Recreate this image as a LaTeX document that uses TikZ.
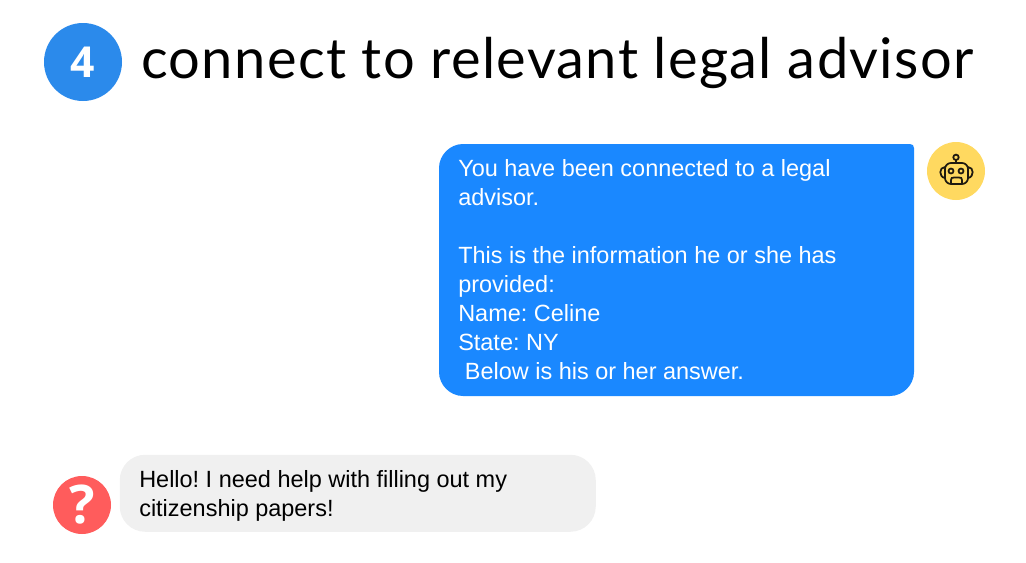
\documentclass[tikz,border=0pt]{standalone}
\usepackage{fontspec}
\setmainfont{Liberation Sans}
\newfontfamily\titlefont[LetterSpace=2.4]{Lato}
\newfontfamily\numfont{Open Sans}
\definecolor{stepblue}{HTML}{2B8AEB}
\definecolor{botblue}{HTML}{1A88FF}
\definecolor{botyellow}{HTML}{FFD960}
\definecolor{userred}{HTML}{FF5C5C}
\definecolor{usergray}{HTML}{F0F0F0}
\definecolor{iconink}{HTML}{1F1A10}
\tikzset{
	bubbletext/.style={anchor=north west,inner sep=0pt,align=left,font=\fontsize{17.6}{21.75}\selectfont},
	iconline/.style={draw=iconink,line width=1.3pt}
}
\frenchspacing
\begin{document}
\begin{tikzpicture}[x=0.75pt,y=0.75pt,yscale=-1,xscale=1]
	\useasboundingbox (0,0) rectangle (1026,562);

	%Shape: Circle [step badge]
	\node (stepbadge) [circle,fill=stepblue,minimum size=58.5pt,inner sep=0pt] at (83,62) {};
	% Text Node
	\node [text=white,font=\numfont\bfseries\fontsize{32}{32}\selectfont] at (stepbadge) {4};
	% Text Node
	\node (title) [anchor=base west,inner sep=0pt,font=\titlefont\fontsize{42}{48}\selectfont] at (141,78) {connect to relevant legal advisor};

	%Shape: Bot bubble
	\fill [botblue] (463,144) -- (910,144) .. controls (912.5,144) and (914,145.5) .. (914,148) -- (914,372) .. controls (914,385) and (903,396) .. (890,396) -- (463,396) .. controls (450,396) and (439,385) .. (439,372) -- (439,168) .. controls (439,155) and (450,144) .. (463,144) -- cycle ;
	% Text Node
	\node (bottext) [bubbletext,text=white] at (458,159) {You have been connected to a legal\\advisor.\\[21.75pt]This is the information he or she has\\provided:\\Name: Celine\\State: NY\\\hspace*{5pt}Below is his or her answer.};

	%Shape: Circle [bot avatar]
	\node (botavatar) [circle,fill=botyellow,minimum size=43.5pt,inner sep=0pt] at (956,171) {};
	%Robot icon
	\draw [iconline] (956,163) -- (956,160) ;
	\draw [iconline] (956,157.3) circle [radius=2.7] ;
	\draw [iconline,rounded corners=4.5pt] (945,163) rectangle (968,184) ;
	\draw [iconline] (945,167) .. controls (939,167) and (938.5,177) .. (945,178) ;
	\draw [iconline] (968,167) .. controls (974,167) and (974.5,177) .. (968,178) ;
	\draw [iconline] (951,171) circle [radius=2.5] ;
	\draw [iconline] (961,171) circle [radius=2.5] ;
	\draw [iconline] (951,184) -- (951,180) .. controls (951,178) and (952,177.5) .. (954,177.5) -- (959,177.5) .. controls (961,177.5) and (962,178) .. (962,180) -- (962,184) ;

	%Shape: User bubble
	\node (userbubble) [anchor=north west,fill=usergray,rounded corners=19pt,minimum width=357pt,minimum height=57.75pt,inner sep=0pt] at (119.5,454.5) {};
	% Text Node
	\node (usertext) [bubbletext,text=black] at (139,470) {Hello! I need help with filling out my\\citizenship papers!};

	%Shape: Circle [user avatar]
	\node (useravatar) [circle,fill=userred,minimum size=43.5pt,inner sep=0pt] at (82,505) {};
	% Text Node
	\node [text=white,font=\numfont\bfseries\fontsize{40}{40}\selectfont] at (useravatar) {?};
\end{tikzpicture}
\end{document}
